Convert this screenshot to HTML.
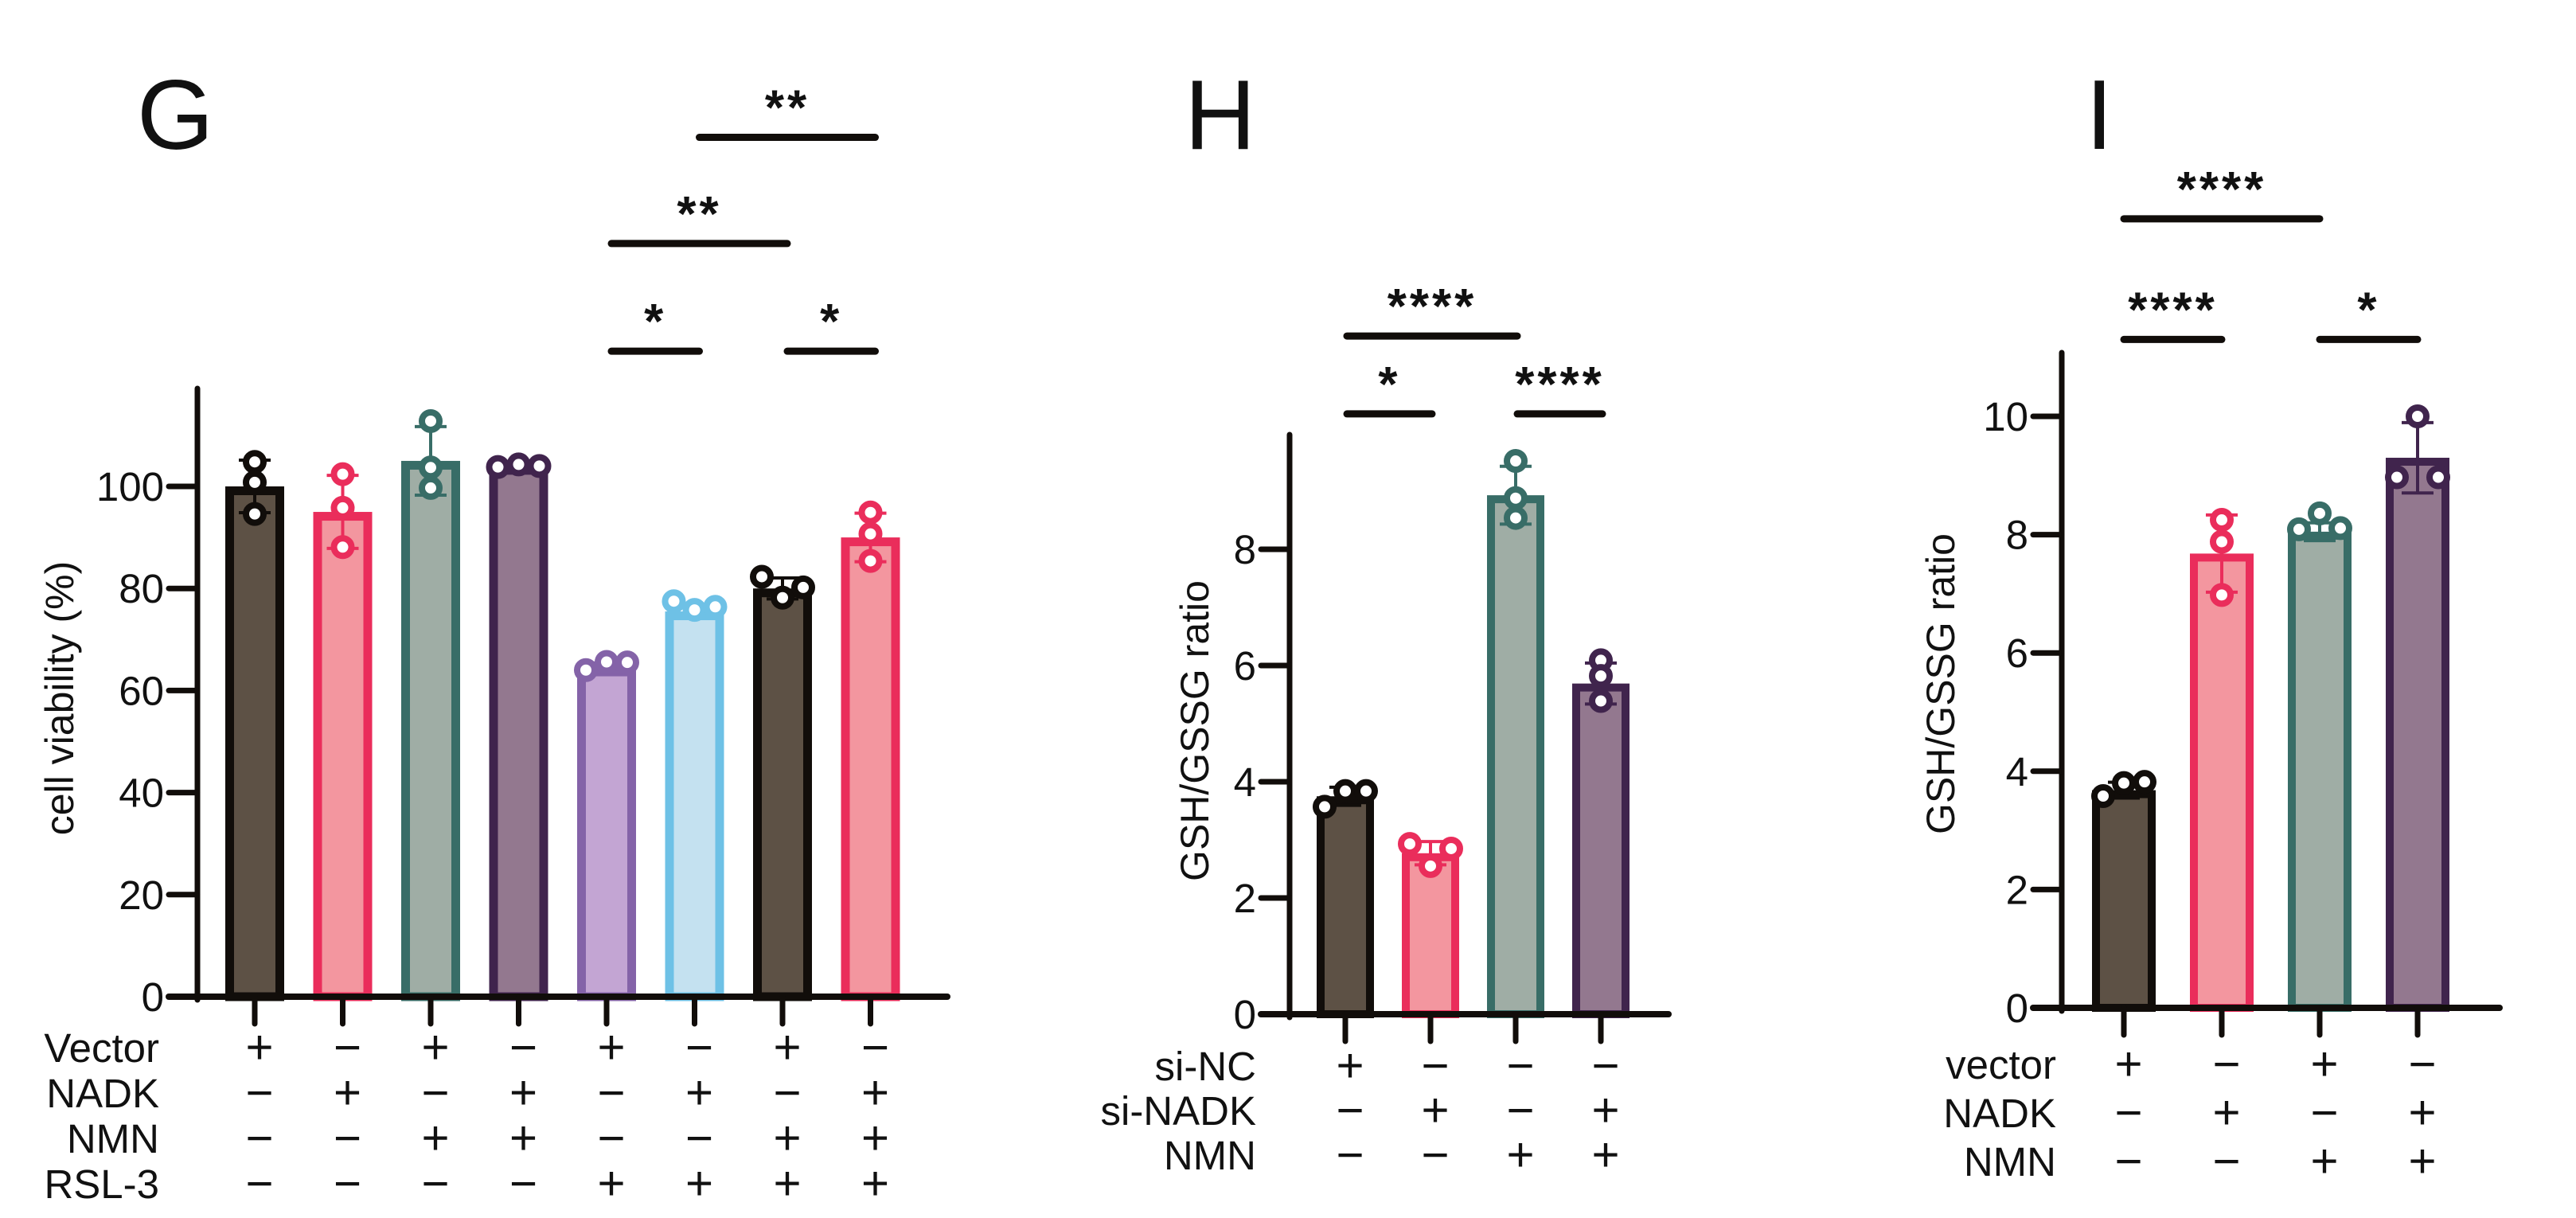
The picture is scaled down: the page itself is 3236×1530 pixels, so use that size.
<!DOCTYPE html>
<html><head><meta charset="utf-8">
<style>
html,body{margin:0;padding:0;background:#fff;}
svg{display:block;font-family:"Liberation Sans",Arial,sans-serif;}
</style></head>
<body>
<svg id="fig" width="3236" height="1530" viewBox="0 0 3236 1530" xmlns="http://www.w3.org/2000/svg">
<text x="172" y="187" font-size="124" fill="#111">G</text>
<text x="1488" y="187" font-size="124" fill="#111">H</text>
<text x="2620" y="187" font-size="124" fill="#111">I</text>
</svg>
<script>
// ---- Panel G data ----
const gMeans = [100, 95, 105, 104, 64.5, 75.5, 80, 90];
const gPoints = [[104.8,100.8,94.6],[102.4,95.8,88.1],[112.8,103.7,99.7],[103.8,104.3,104.0],[64.0,65.6,65.5],[77.5,75.8,76.4],[82.3,78.2,80.2],[94.9,90.7,85.4]];
const gTicks = [0,20,40,60,80,100];
const gRows = ["Vector","NADK","NMN","RSL-3"];
const gSigns = [["+","−","+","−","+","−","+","−"],["−","+","−","+","−","+","−","+"],["−","−","+","+","−","−","+","+"],["−","−","−","−","+","+","+","+"]];
const gBrackets = [[4,5,"*",126.5],[6,7,"*",126.5],[4,6,"**",147.6],[5,7,"**",168.4]];
const gSpread = [0,0,0,1,1,1,1,0];
// ---- Panel H data ----
const hMeans = [3.75, 2.77, 8.93, 5.69];
const hPoints = [[3.57,3.84,3.84],[2.93,2.55,2.85],[9.52,8.88,8.54],[6.09,5.82,5.39]];
const hTicks = [0,2,4,6,8];
const hRows = ["si-NC","si-NADK","NMN"];
const hSigns = [["+","−","−","−"],["−","+","−","+"],["−","−","+","+"]];
const hBrackets = [[0,1,"*",10.33],[2,3,"****",10.33],[0,2,"****",11.67]];
const hSpread = [1,1,0,0];
// ---- Panel I data ----
const iMeans = [3.68, 7.68, 8.05, 9.3];
const iPoints = [[3.58,3.8,3.82],[8.25,7.88,6.98],[8.09,8.36,8.11],[8.97,10.0,8.97]];
const iTicks = [0,2,4,6,8,10];
const iRows = ["vector","NADK","NMN"];
const iSigns = [["+","−","+","−"],["−","+","−","+"],["−","−","+","+"]];
const iBrackets = [[0,1,"****",11.3],[2,3,"*",11.3],[0,2,"****",13.34]];
const iSpread = [1,0,1,1];

const FILLS = {k:"#5d5145",p:"#f3969f",t:"#9fada5",v:"#93788f",l:"#c3a5d3",b:"#c4e1f0"};
const STROKES = {k:"#110d0a",p:"#ea2d5b",t:"#386d67",v:"#40244d",l:"#8463a8",b:"#6ec1e6"};
const NS = "http://www.w3.org/2000/svg";
const svg = document.getElementById("fig");
function mk(tag, attrs, parent){ const e=document.createElementNS(NS,tag); for(const k in attrs) e.setAttribute(k,attrs[k]); (parent||svg).appendChild(e); return e; }

function panel(cfg){
  const g = mk("g",{});
  
  
  const y = v => cfg.zero - v*cfg.ppu;
  const x = i => cfg.x0 + i*cfg.step;
  const bw = cfg.bw, sw = cfg.sw;
  cfg.means.forEach((m,i)=>{
    const c = cfg.colors[i];
    const r = mk("rect",{x:x(i)-bw/2+sw/2, y:y(m)+sw/2, width:bw-sw, height:cfg.zero-y(m)-sw/2, fill:FILLS[c], stroke:STROKES[c], "stroke-width":sw},g);
    
    
  });
  cfg.points.forEach((pts,i)=>{
    const c = STROKES[cfg.colors[i]];
    const n = pts.length, mean = pts.reduce((a,b)=>a+b,0)/n;
    const sd = Math.sqrt(pts.reduce((a,b)=>a+(b-mean)*(b-mean),0)/(n-1));
    const eg = mk("g",{},g);
    
    
    mk("line",{x1:x(i),x2:x(i),y1:y(cfg.means[i]+sd),y2:y(cfg.means[i]-sd),stroke:c,"stroke-width":4},eg);
    [1,-1].forEach(s=>mk("line",{x1:x(i)-20,x2:x(i)+20,y1:y(cfg.means[i]+s*sd),y2:y(cfg.means[i]+s*sd),stroke:c,"stroke-width":4},eg));
    pts.forEach((p,j)=>{
      const dx = cfg.spread[i] ? (j-1)*26 : 0;
      const ci = mk("circle",{cx:x(i)+dx, cy:y(p), r:11, fill:"#fff", stroke:c, "stroke-width":8},g);
      
      
    });
  });
  const ya = mk("line",{x1:cfg.ax,x2:cfg.ax,y1:cfg.top,y2:cfg.zero+4,stroke:"#110d0a","stroke-width":7,"stroke-linecap":"round"},g);
  
  
  const xa = mk("line",{x1:cfg.ax-36,x2:cfg.xEnd,y1:cfg.zero,y2:cfg.zero,stroke:"#110d0a","stroke-width":8,"stroke-linecap":"round"},g);
  
  
  cfg.ticks.forEach(t=>{
    mk("line",{x1:cfg.ax-36,x2:cfg.ax,y1:y(t),y2:y(t),stroke:"#110d0a","stroke-width":7,"stroke-linecap":"round"},g);
    const tx = mk("text",{x:cfg.ax-42,y:y(t)+18,"font-size":51,"text-anchor":"end",fill:"#111"},g);
    tx.textContent = t;
    
    
  });
  cfg.means.forEach((m,i)=>mk("line",{x1:x(i),x2:x(i),y1:cfg.zero,y2:cfg.zero+34,stroke:"#110d0a","stroke-width":7,"stroke-linecap":"round"},g));
  const yl = mk("text",{x:0,y:0,"font-size":50,"text-anchor":"middle",fill:"#111",transform:`translate(${cfg.ylx},${cfg.yly}) rotate(-90)`},g);
  yl.textContent = cfg.ylabel;
  
  
  cfg.rows.forEach((rname,r)=>{
    const ry = cfg.row0 + r*cfg.rowStep;
    const t = mk("text",{x:cfg.rowX,y:ry+18,"font-size":51,"text-anchor":"end",fill:"#111"},g);
    t.textContent = rname;
    
    
    cfg.signs[r].forEach((s,i)=>{
      const st = mk("text",{x:x(i)+6,y:ry+20,"font-size":60,"text-anchor":"middle",fill:"#111"},g);
      st.textContent = s;
      
      
    });
  });
  cfg.brackets.forEach(b=>{
    const by = y(b[3]);
    const bl = mk("line",{x1:x(b[0])+cfg.bOff,x2:x(b[1])+cfg.bOff,y1:by,y2:by,stroke:"#110d0a","stroke-width":9,"stroke-linecap":"round"},g);
    
    
    const st = mk("text",{x:(x(b[0])+x(b[1]))/2+cfg.bOff,y:by-16,"font-size":62,"font-weight":"bold","text-anchor":"middle","letter-spacing":4,fill:"#111"},g);
    st.textContent = b[2];
    
    
  });
}

panel({name:"panel-g-chart", means:gMeans, points:gPoints, ticks:gTicks, rows:gRows, signs:gSigns, brackets:gBrackets, spread:gSpread,
  colors:["k","p","t","v","l","b","k","p"], x0:320, step:110.5, bw:74, sw:11, zero:1252, ppu:6.41, top:488, ax:248, xEnd:1190,
  ylx:92, yly:877, ylabel:"cell viability (%)", row0:1316, rowStep:57, rowX:200, bOff:6});
panel({name:"panel-h-chart", means:hMeans, points:hPoints, ticks:hTicks, rows:hRows, signs:hSigns, brackets:hBrackets, spread:hSpread,
  colors:["k","p","t","v"], x0:1690, step:107, bw:72, sw:10, zero:1274, ppu:73, top:546, ax:1620, xEnd:2096,
  ylx:1518, yly:918, ylabel:"GSH/GSSG ratio", row0:1339, rowStep:56, rowX:1578, bOff:2});
panel({name:"panel-i-chart", means:iMeans, points:iPoints, ticks:iTicks, rows:iRows, signs:iSigns, brackets:iBrackets, spread:iSpread,
  colors:["k","p","t","v"], x0:2668, step:123, bw:80, sw:10, zero:1266, ppu:74.3, top:443, ax:2590, xEnd:3140,
  ylx:2455, yly:859, ylabel:"GSH/GSSG ratio", row0:1337, rowStep:61, rowX:2583, bOff:0});
</script>
</body></html>
